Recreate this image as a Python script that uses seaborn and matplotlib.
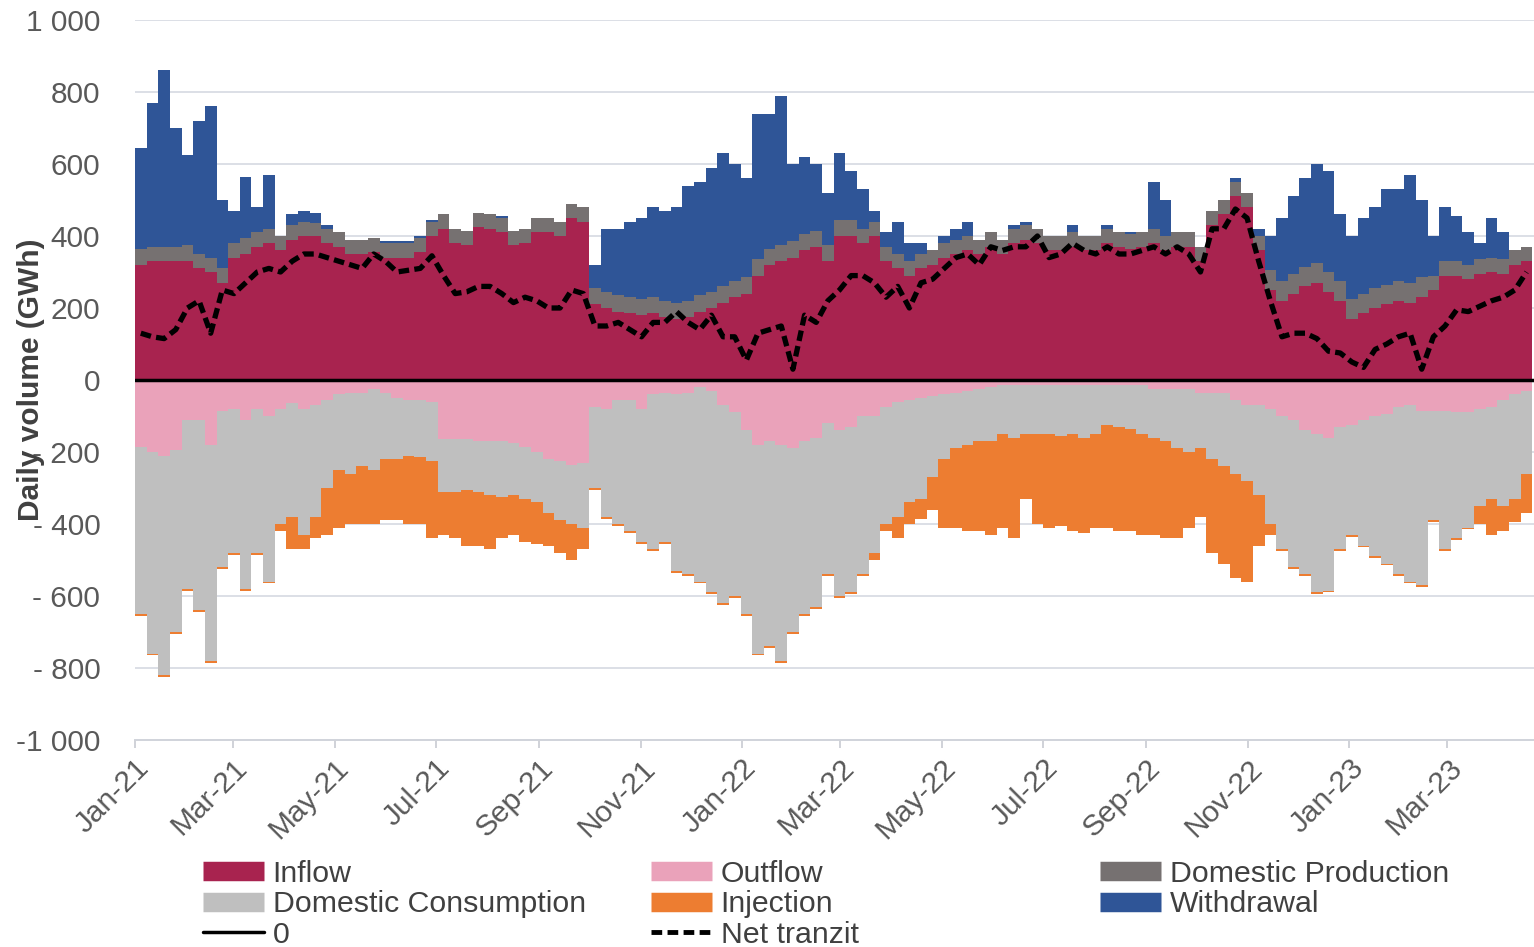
import numpy as np
import pandas as pd
import matplotlib
matplotlib.use("Agg")
import matplotlib.pyplot as plt
import matplotlib.dates as mdates
from matplotlib.lines import Line2D
import seaborn as sns

# ---------------- data (weekly values, GWh/day) ----------------
start_date = "2021-01-01"
n_weeks = 120

inflow = [320,330,330,330,330,310,300,270,340,350,
          370,380,360,390,400,400,380,370,350,350,
          355,340,340,340,355,400,420,380,375,425,
          420,410,375,380,410,410,400,450,440,210,
          200,190,185,180,185,175,170,175,190,200,
          215,230,240,290,320,330,340,360,370,330,
          400,400,380,400,330,310,290,310,320,340,
          350,360,350,370,350,380,390,380,360,360,
          370,360,360,380,370,365,370,380,360,370,
          370,330,430,460,510,480,360,250,220,240,
          260,270,245,220,170,185,200,210,220,215,
          230,250,290,290,280,295,300,295,320,330]

domestic_production = [45,40,40,40,45,40,40,40,40,45,
                       40,40,40,40,40,35,40,40,40,40,
                       40,40,40,40,40,40,40,40,40,40,
                       40,40,40,40,40,40,40,40,40,45,
                       45,45,45,45,45,45,45,45,45,45,
                       45,45,45,45,45,45,45,45,45,45,
                       45,45,40,40,40,40,40,40,40,40,
                       40,40,40,40,40,40,40,40,40,40,
                       40,40,40,40,40,40,40,40,40,40,
                       40,40,40,40,40,40,40,55,55,55,
                       55,55,55,55,55,55,55,55,55,55,
                       55,40,40,40,40,40,40,40,40,40]

withdrawal = [280,400,490,330,250,370,420,190,90,170,
              70,150,0,30,30,30,10,0,0,0,
              0,5,5,5,5,5,0,0,0,0,
              0,5,0,0,0,0,0,0,0,65,
              175,185,210,225,250,250,265,320,315,345,
              370,325,275,405,375,415,215,215,185,145,
              185,135,110,30,40,90,50,30,0,20,
              30,40,0,0,0,10,10,0,0,0,
              20,0,0,10,0,5,0,130,100,0,
              0,0,0,0,10,0,20,95,175,215,
              245,275,280,185,175,210,225,265,255,300,
              215,110,150,125,90,45,110,75,0,0]

outflow = [185,200,210,195,110,110,180,85,80,110,
           80,100,80,65,80,70,55,40,35,35,
           25,35,50,55,55,60,165,165,165,170,
           170,170,175,185,200,220,225,235,230,75,
           80,55,55,80,40,35,40,35,20,30,
           70,90,140,180,170,180,190,170,160,120,
           140,130,100,100,75,60,55,50,45,40,
           35,30,25,20,15,15,15,15,15,15,
           15,15,15,15,15,15,15,25,25,25,
           25,35,35,35,55,70,70,80,100,110,
           140,150,160,130,125,110,100,95,75,70,
           85,85,85,90,90,80,75,55,40,30]

domestic_consumption = [465,560,610,505,470,530,600,435,400,470,
                        400,460,320,315,350,310,245,210,225,205,
                        225,185,170,155,160,165,145,145,140,140,
                        150,155,145,145,140,150,165,165,180,225,
                        300,345,365,370,430,415,490,505,540,560,
                        550,510,510,580,570,600,510,480,470,420,
                        460,460,440,380,325,320,285,280,225,180,
                        155,150,145,150,135,145,135,135,135,140,
                        135,145,135,110,115,120,135,135,145,165,
                        175,155,185,205,205,210,250,320,370,410,
                        400,440,425,340,305,350,390,415,465,490,
                        485,305,385,350,320,270,255,295,290,230]

injection = [5,5,5,5,5,5,5,5,5,5,
             5,5,20,90,40,60,130,160,140,160,
             150,170,170,190,185,215,120,130,155,150,
             150,115,110,120,115,90,90,100,60,5,
             5,5,5,5,5,5,5,5,5,5,
             5,5,5,5,5,5,5,5,5,5,
             5,5,5,20,20,60,60,55,90,190,
             220,240,250,260,260,280,180,250,260,250,
             270,265,260,285,290,285,280,270,270,250,
             210,190,260,270,290,280,140,30,5,5,
             5,5,5,5,5,5,5,5,5,5,
             5,5,5,5,5,50,100,70,65,110]

net_tranzit = [130,120,115,140,200,220,130,250,240,270,
               300,310,300,330,350,350,340,330,320,310,
               350,330,300,305,310,345,290,240,245,260,
               260,240,215,230,220,200,200,250,240,150,
               150,160,140,120,160,160,190,160,140,180,
               120,120,55,130,140,150,30,180,160,220,
               250,290,290,270,230,260,200,270,280,310,
               340,350,320,370,360,370,370,400,340,350,
               380,360,350,370,350,350,360,370,350,370,
               350,300,420,420,475,450,330,220,120,130,
               130,115,80,75,50,35,85,100,120,130,
               30,120,150,195,190,205,220,230,250,300]

y_ticks = [1000, 800, 600, 400, 200, 0, -200, -400, -600, -800, -1000]
y_tick_labels = ["1 000", "800", "600", "400", "200", "0",
                 "- 200", "- 400", "- 600", "- 800", "-1 000"]

colors = {"Inflow": "#A8234F", "Outflow": "#EAA2BA", "Domestic Production": "#767171",
          "Domestic Consumption": "#BFBFBF", "Injection": "#ED7D31", "Withdrawal": "#2F5597"}

# ---------------- build frame ----------------
week_start = pd.date_range(start_date, periods=n_weeks, freq="7D")
edges = week_start.append(pd.DatetimeIndex([week_start[-1] + pd.Timedelta(days=7)]))
centers = week_start + pd.Timedelta(hours=84)
df = pd.DataFrame({"date": centers, "net": net_tranzit})

def ext(v):
    v = np.asarray(v, dtype=float)
    return np.append(v, v[-1])

# ---------------- figure ----------------
sns.set_theme(style="white")
plt.rcParams["font.family"] = ["Liberation Sans", "DejaVu Sans"]

W, H = 1534, 947
fig = plt.figure(figsize=(W / 100, H / 100), dpi=100)
ax = fig.add_axes([135 / W, 207 / H, 1399 / W, 720 / H])

pos = [ext(inflow), ext(domestic_production), ext(withdrawal)]
ax.stackplot(edges, *pos, colors=[colors["Inflow"], colors["Domestic Production"], colors["Withdrawal"]],
             step="post", linewidth=0, zorder=2)
neg = [-ext(outflow), -ext(domestic_consumption), -ext(injection)]
ax.stackplot(edges, *neg, colors=[colors["Outflow"], colors["Domestic Consumption"], colors["Injection"]],
             step="post", linewidth=0, zorder=2)

ax.axhline(0, color="black", lw=2.5, zorder=4)
sns.lineplot(data=df, x="date", y="net", ax=ax, color="black", lw=3.8, zorder=5)
net_line = ax.lines[-1]
net_line.set_dashes([2.0, 1.0])

# axes styling
ax.set_ylim(-1000, 1000)
ax.set_xlim(pd.Timestamp(start_date), pd.Timestamp(start_date) + pd.Timedelta(days=841))
ax.set_yticks(y_ticks)
ax.set_yticklabels(y_tick_labels)
for y in y_ticks:
    if y not in (0, -1000):
        ax.axhline(y, color="#DCDFE6", lw=1.4, zorder=1)
ax.grid(False)
for s in ["left", "top", "right"]:
    ax.spines[s].set_visible(False)
ax.spines["bottom"].set_color("#D0D3DA")
ax.spines["bottom"].set_linewidth(1.4)

ax.xaxis.set_major_locator(mdates.MonthLocator(bymonth=[1, 3, 5, 7, 9, 11]))
ax.xaxis.set_major_formatter(mdates.DateFormatter("%b-%y"))
ax.tick_params(axis="y", length=0, pad=25, labelsize=21.5, labelcolor="#595959")
ax.tick_params(axis="x", length=6, width=1.2, color="#C8CBD2", pad=4, labelsize=21.5,
               labelcolor="#595959", bottom=True)
for lab in ax.get_xticklabels():
    lab.set_rotation(45)
    lab.set_ha("right")
    lab.set_va("top")
    lab.set_rotation_mode("anchor")

ax.set_xlabel("")
ax.set_ylabel("Daily volume (GWh)", fontsize=21.5, fontweight="bold", color="#404040")
ax.yaxis.set_label_coords(-0.064, 0.5)

# ---------------- legend (three columns) ----------------
def patch(c):
    return Line2D([0], [0], color=c, lw=14, solid_capstyle="butt")

col_items = [
    [(patch(colors["Inflow"]), "Inflow"), (patch(colors["Domestic Consumption"]), "Domestic Consumption"),
     (Line2D([0], [0], color="black", lw=2.5), "0")],
    [(patch(colors["Outflow"]), "Outflow"), (patch(colors["Injection"]), "Injection"),
     (Line2D([0], [0], color="black", lw=3.5, dashes=[2.2, 1.1]), "Net tranzit")],
    [(patch(colors["Domestic Production"]), "Domestic Production"), (patch(colors["Withdrawal"]), "Withdrawal")],
]
col_x = [203, 651, 1100]
for items, x in zip(col_items, col_x):
    leg = fig.legend([h for h, _ in items], [l for _, l in items], loc="upper left",
                     bbox_to_anchor=(x / W, 1 - 860 / H), frameon=False, fontsize=21.8,
                     handlelength=2.0, handletextpad=0.3, labelspacing=0.08,
                     borderpad=0, borderaxespad=0)
    for t in leg.get_texts():
        t.set_color("#404040")

fig.savefig("out.png", dpi=100)
